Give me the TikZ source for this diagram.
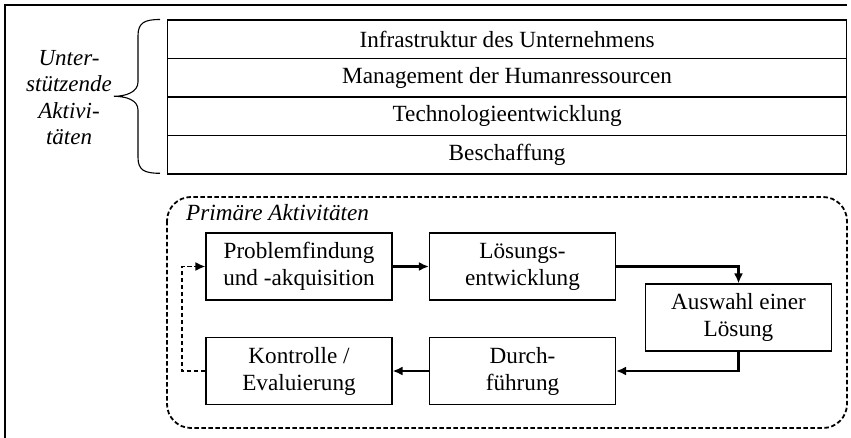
\documentclass[tikz,border=0pt]{standalone}
\usepackage{fontspec}
\setmainfont{Liberation Serif}
\usetikzlibrary{arrows.meta,positioning}
\begin{document}
\begin{tikzpicture}[x=1pt,y=-1pt,
  every node/.style={font=\fontsize{23.2}{27}\selectfont, inner sep=0pt},
  row/.style={draw, line width=1.3pt, minimum width=679pt, minimum height=38.5pt, anchor=north west},
  stepbox/.style={draw, line width=1.1pt, minimum width=186pt, minimum height=67pt, align=center},
  flow/.style={line width=2.3pt, -{Latex[length=10pt,width=9pt]}},
  back/.style={line width=1.9pt, dash pattern=on 4.5pt off 2.5pt, -{Latex[length=10pt,width=9pt]}}
]
\useasboundingbox (0,0) rectangle (851,438);
% outer frame (top and left)
\draw[line width=2pt] (4.5,438) -- (4.5,5.5) -- (847,5.5);
% support rows
\node[row] (r1) at (167,19.3) {Infrastruktur des Unternehmens};
\node[row] (r2) at (167,57.8) {Management der Humanressourcen};
\node[row] (r3) at (167,96.3) {Technologieentwicklung};
\node[row] (r4) at (167,134.8) {Beschaffung};
% brace
\draw[line width=1.1pt] (160,19.5) .. controls (144,19.5) and (138,23) .. (138,36) -- (138,82)
  .. controls (138,92) and (126,96.3) .. (114,96.3)
  .. controls (126,96.3) and (138,100) .. (138,110) -- (138,157)
  .. controls (138,170) and (144,173.3) .. (160,173.3);
\node[align=center, font=\fontsize{23}{26.3}\selectfont\itshape] (sup) at (69,97.5) {Unter-\\stützende\\Aktivi-\\täten};
% primary activities frame
\draw[line width=1.8pt, dash pattern=on 4.5pt off 2.5pt, rounded corners=24pt] (167,197) rectangle (847,428);
\node[anchor=west, font=\fontsize{23.2}{27}\selectfont\itshape] (prim) at (186,213) {Primäre Aktivitäten};
% boxes
\node[stepbox] (p) at (299,266.5) {Problemfindung\\und -akquisition};
\node[stepbox] (l) at (522.5,266.5) {Lösungs-\\entwicklung};
\node[stepbox] (a) at (738.5,317.5) {Auswahl einer\\Lösung};
\node[stepbox] (d) at (522.5,371) {Durch-\\führung};
\node[stepbox] (k) at (299,371) {Kontrolle /\\Evaluierung};
% connectors
\draw[flow] (p) -- (l);
\draw[flow] (l.east) -| (a.north);
\draw[flow] (a.south) |- (d.east);
\draw[flow] (d) -- (k);
\coordinate (ret) at (182,371);
\draw[back] (k.west) -- (ret) |- (p.west);
\end{tikzpicture}
\end{document}
